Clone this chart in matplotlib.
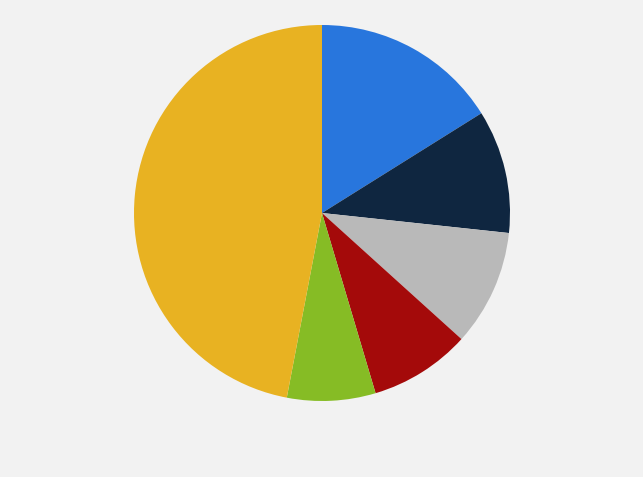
import matplotlib.pyplot as plt

# slice shares, clockwise from 12 o'clock
segments = ["Blue", "Navy", "Gray", "Red", "Green", "Yellow"]
shares = [16.1, 10.6, 10.0, 8.7, 7.6, 47.0]
colors = ["#2876dd", "#0f2640", "#b9b9b9", "#a40a0a", "#86bc25", "#e8b222"]

fig = plt.figure(figsize=(6.43, 4.7701), dpi=100)
fig.patch.set_facecolor("#f2f2f2")

# center ~ (322, 213) px, radius ~ 188 px
cx, cy, r = 322, 213, 188
ax = fig.add_axes([(cx - r) / 643, (477 - cy - r) / 477, 2 * r / 643, 2 * r / 477])
ax.set_facecolor("#f2f2f2")

ax.pie(shares, colors=colors, startangle=90, counterclock=False,
       wedgeprops=dict(linewidth=0), radius=1.0)
ax.set_xlim(-1, 1)
ax.set_ylim(-1, 1)
ax.set_aspect("equal")
ax.axis("off")

fig.savefig("out.png", dpi=100, facecolor=fig.get_facecolor())
